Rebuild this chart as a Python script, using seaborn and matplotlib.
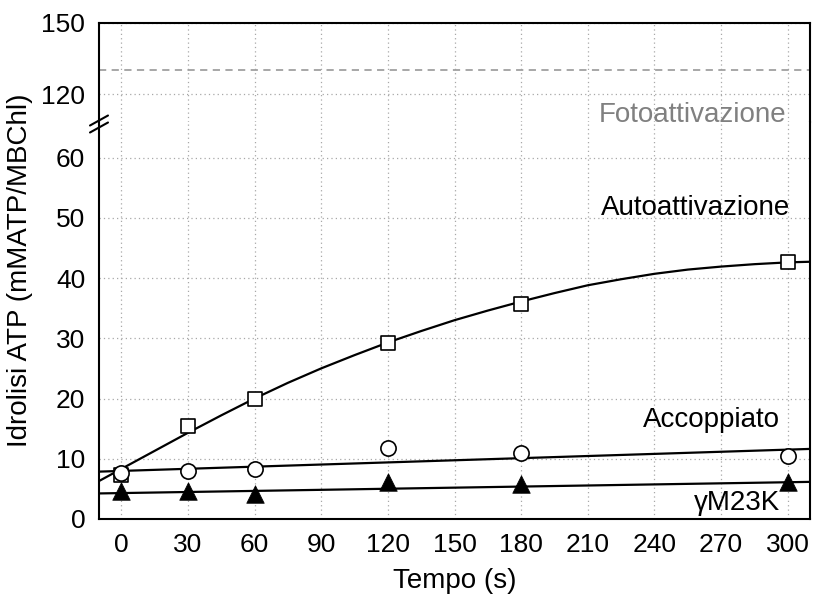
import numpy as np
import pandas as pd
import matplotlib
matplotlib.use('Agg')
import matplotlib.pyplot as plt
import seaborn as sns
from matplotlib.ticker import MultipleLocator
from matplotlib.lines import Line2D

# measured points
tempo = [0, 30, 60, 120, 180, 300]
autoattivazione = [7.3, 15.4, 20.0, 29.2, 35.7, 42.6]
accoppiato = [7.7, 7.9, 8.3, 11.7, 10.9, 10.4]
gm23k = [4.6, 4.6, 4.1, 6.1, 5.8, 6.1]

# fitted curves
fit_auto_x = [-10, 0, 15, 30, 45, 60, 75, 90, 105, 120, 135, 150, 165, 180,
              195, 210, 225, 240, 255, 270, 285, 300, 310]
fit_auto_y = [6.3, 8.3, 11.3, 14.3, 17.2, 20.0, 22.6, 25.0, 27.2, 29.3, 31.2, 33.0, 34.6, 36.1,
              37.5, 38.8, 39.8, 40.7, 41.4, 41.9, 42.3, 42.6, 42.7]
fit_acc_x = [-10, 310]
fit_acc_y = [7.86, 11.63]
fit_gm_x = [-10, 310]
fit_gm_y = [4.24, 6.16]

foto_level = 130

sns.set_style("white")
plt.rcParams['font.family'] = ['Liberation Sans', 'DejaVu Sans']
plt.rcParams.update({'text.color': 'black', 'axes.labelcolor': 'black',
                     'xtick.color': 'black', 'ytick.color': 'black'})

FS = 20
TICK_FS = 19
fig = plt.figure(figsize=(8.15, 5.94), dpi=100)
ax_top = fig.add_axes([0.1215, 0.7946, 0.8724, 0.1667])
ax = fig.add_axes([0.1215, 0.1263, 0.8724, 0.6683])

grid_kw = dict(color='#a8a8a8', linestyle=(0, (1, 2.5)), linewidth=0.9)

for a in (ax, ax_top):
    a.set_xlim(-10, 310)
    a.xaxis.set_major_locator(MultipleLocator(30))
    a.xaxis.set_minor_locator(MultipleLocator(10))
    a.grid(True, which='major', **grid_kw)
    a.set_axisbelow(True)
    a.tick_params(which='major', direction='out', length=6.5, width=1.1, labelsize=TICK_FS)
    a.tick_params(which='minor', direction='out', length=3.6, width=1.1)
    for s in a.spines.values():
        s.set_linewidth(1.5)
        s.set_color('black')

ax.set_ylim(0, 65.9)
ax.yaxis.set_major_locator(MultipleLocator(10))
ax.yaxis.set_minor_locator(MultipleLocator(10 / 3))
ax.spines['top'].set_visible(False)

ax_top.set_ylim(108.3, 150)
ax_top.yaxis.set_major_locator(MultipleLocator(30))
ax_top.yaxis.set_minor_locator(MultipleLocator(10))
ax_top.spines['bottom'].set_visible(False)
ax_top.tick_params(axis='x', which='both', bottom=False, labelbottom=False)

# fit lines
sns.lineplot(x=fit_auto_x, y=fit_auto_y, ax=ax, color='black', linewidth=1.6, zorder=3)
sns.lineplot(x=fit_acc_x, y=fit_acc_y, ax=ax, color='black', linewidth=1.6, zorder=3)
sns.lineplot(x=fit_gm_x, y=fit_gm_y, ax=ax, color='black', linewidth=1.6, zorder=3)

# markers
sns.scatterplot(x=tempo, y=autoattivazione, ax=ax, marker='s', s=110, facecolor='white',
                edgecolor='black', linewidth=1.2, zorder=4)
sns.scatterplot(x=tempo, y=accoppiato, ax=ax, marker='o', s=120, facecolor='white',
                edgecolor='black', linewidth=1.2, zorder=4)
sns.scatterplot(x=tempo, y=gm23k, ax=ax, marker='^', s=160, color='black',
                edgecolor='black', linewidth=0.5, zorder=4)

# photoactivation level
ax_top.axhline(foto_level, color='#a0a0a0', linestyle=(0, (4, 3)), linewidth=1.3)

ax_top.text(299.5, 108.4, 'Fotoattivazione', color='#808080', fontsize=FS,
            ha='right', va='baseline', clip_on=False)
ax.text(301, 50.5, 'Autoattivazione', fontsize=FS, ha='right', va='baseline')
ax.text(296.5, 15.3, 'Accoppiato', fontsize=FS, ha='right', va='baseline')
ax.text(296.5, 1.5, 'γM23K', fontsize=FS, ha='right', va='baseline')

ax.set_xlabel('Tempo (s)', fontsize=FS, labelpad=8)
fig.text(0.025, 0.545, 'Idrolisi ATP (mMATP/MBChl)', rotation=90, fontsize=FS,
         ha='center', va='center')

# break marks on the left spine
for yc in (120.5, 127.5):
    y0 = 1 - (yc + 5) / 594
    y1 = 1 - (yc - 5) / 594
    fig.add_artist(Line2D([90 / 815, 108 / 815], [y0, y1], color='black', linewidth=1.5))

fig.savefig('out.png', dpi=100)
